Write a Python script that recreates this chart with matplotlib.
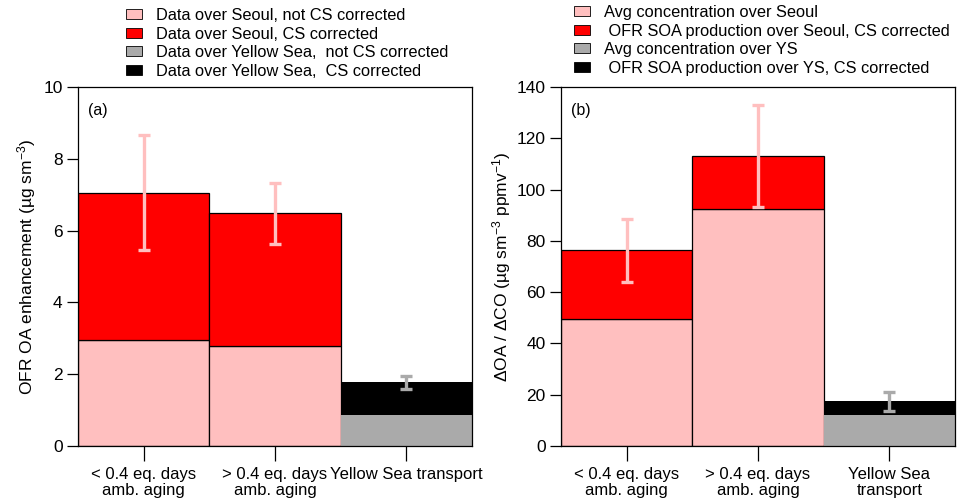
import matplotlib
matplotlib.use("Agg")
import matplotlib.pyplot as plt
from matplotlib.patches import Patch

plt.rcParams['font.family'] = ['Liberation Sans', 'DejaVu Sans']
plt.rcParams['mathtext.fontset'] = 'custom'
plt.rcParams['mathtext.rm'] = 'Liberation Sans'
plt.rcParams['mathtext.it'] = 'Liberation Sans'
plt.rcParams['mathtext.default'] = 'rm'

# ---- data ----
cats_a = ["< 0.4 eq. days\namb. aging", "> 0.4 eq. days\namb. aging", "Yellow Sea transport"]
cats_b = ["< 0.4 eq. days\namb. aging", "> 0.4 eq. days\namb. aging", "Yellow Sea\ntransport"]
base_a = [2.94, 2.78, 0.87]
total_a = [7.06, 6.48, 1.77]
err_a = [1.59, 0.84, 0.18]
base_b = [49.4, 92.3, 12.2]
total_b = [76.3, 113.2, 17.4]
err_b = [12.2, 19.9, 3.6]

legend_a = ["Data over Seoul, not CS corrected", "Data over Seoul, CS corrected",
            "Data over Yellow Sea,  not CS corrected", "Data over Yellow Sea,  CS corrected"]
legend_b = ["Avg concentration over Seoul", " OFR SOA production over Seoul, CS corrected",
            "Avg concentration over YS", " OFR SOA production over YS, CS corrected"]

PINK = '#FFBFBF'
RED = '#FF0000'
GRAY = '#AAAAAA'
BLACK = '#000000'
base_colors = [PINK, PINK, GRAY]
top_colors = [RED, RED, BLACK]
edge_colors = ['black', 'black', 'none']
err_colors = [PINK, PINK, GRAY]

fig = plt.figure(figsize=(9.64, 5.04), dpi=100)
ax_a = fig.add_axes([78/964, 1-446/504, (472-78)/964, (446-87)/504])
ax_b = fig.add_axes([561/964, 1-446/504, (955-561)/964, (446-87)/504])


def draw(ax, cats, base, total, err, ymax, ystep, ylabel, tag, legend_labels, leg_x, leg_y, lpad):
    x = list(range(len(cats)))
    for i in x:
        ax.bar(i, base[i], width=1.0, color=base_colors[i], edgecolor=edge_colors[i],
               linewidth=0.9, zorder=2)
        ax.bar(i, total[i] - base[i], bottom=base[i], width=1.0, color=top_colors[i],
               edgecolor=edge_colors[i], linewidth=0.9, zorder=2)
        ax.errorbar(i, total[i], yerr=err[i], color=err_colors[i], elinewidth=2.4,
                    capsize=4, capthick=2.4, zorder=3)
    ax.set_xlim(-0.5, len(cats) - 0.5)
    ax.set_ylim(0, ymax)
    ax.set_yticks(list(range(0, ymax + 1, ystep)))
    ax.set_xticks(x)
    ax.set_xticklabels(cats, fontsize=12, linespacing=1.1)
    ax.tick_params(axis='y', labelsize=12.5, length=8, width=0.9, direction='out', pad=3)
    ax.tick_params(axis='x', length=11, width=0.9, direction='out', pad=4)
    for s in ax.spines.values():
        s.set_linewidth(0.9)
    ax.set_ylabel(ylabel, fontsize=12.5, labelpad=lpad)
    ax.text(0.025, 0.955, tag, transform=ax.transAxes, fontsize=11.5, va='top', ha='left')
    handles = [Patch(facecolor=c, edgecolor='black', linewidth=0.6) for c in [PINK, RED, GRAY, BLACK]]
    fig.legend(handles, legend_labels, loc='upper left', bbox_to_anchor=(leg_x / 964, 1 - leg_y / 504),
               frameon=False, fontsize=11.8, handlelength=1.0, handleheight=0.55,
               handletextpad=0.8, labelspacing=0.22, borderpad=0, borderaxespad=0)


draw(ax_a, cats_a, base_a, total_a, err_a, 10, 2,
     r"OFR OA enhancement (µg sm$^{-3}$)", "(a)", legend_a, 126, 8, 4)
draw(ax_b, cats_b, base_b, total_b, err_b, 140, 20,
     r"ΔOA / ΔCO (µg sm$^{-3}$ ppmv$^{-1}$)", "(b)", legend_b, 574, 5, 3)

fig.savefig("out.png", dpi=100)
